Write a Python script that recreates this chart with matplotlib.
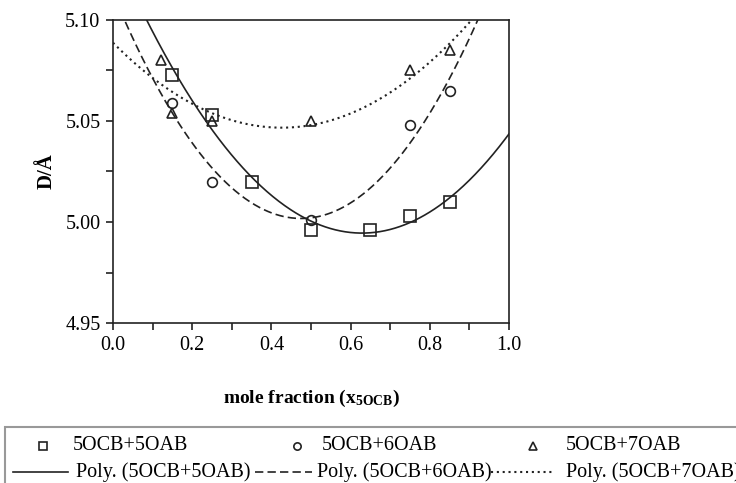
import numpy as np
import matplotlib
matplotlib.use("Agg")
import matplotlib.pyplot as plt
from matplotlib.lines import Line2D
from matplotlib.patches import Rectangle

plt.rcParams['font.family'] = ['Liberation Serif', 'DejaVu Serif']
plt.rcParams['mathtext.fontset'] = 'custom'
plt.rcParams['mathtext.rm'] = 'Liberation Serif'
plt.rcParams['mathtext.bf'] = 'Liberation Serif:bold'
plt.rcParams['mathtext.default'] = 'bf'

# data
x_5 = [0.15, 0.25, 0.35, 0.50, 0.65, 0.75, 0.85]
d_5 = [5.073, 5.053, 5.020, 4.996, 4.996, 5.003, 5.010]

x_6 = [0.15, 0.25, 0.50, 0.75, 0.85]
d_6 = [5.059, 5.020, 5.001, 5.048, 5.065]

x_7 = [0.12, 0.15, 0.25, 0.50, 0.75, 0.85]
d_7 = [5.080, 5.054, 5.050, 5.050, 5.075, 5.085]

labels = ["5OCB+5OAB", "5OCB+6OAB", "5OCB+7OAB"]
xticks = [0.0, 0.2, 0.4, 0.6, 0.8, 1.0]
yticks = [4.95, 5.00, 5.05, 5.10]

W, H = 736, 483
fig = plt.figure(figsize=(W / 100, H / 100), dpi=100)

def fx(px):
    return px / W

def fy(py):
    return 1 - py / H

ax = fig.add_axes([fx(113), fy(323), 396 / W, 303 / H])

col = "#222222"
styles = ["-", (0, (5, 2.5)), (0, (1, 1.8))]
widths = [1.2, 1.2, 1.5]
markers = [("s", 8.5), ("o", 7), ("^", 7)]
xs = [x_5, x_6, x_7]
ds = [d_5, d_6, d_7]

xx = np.linspace(0, 1, 400)
for xv, dv, ls, lw, (m, ms) in zip(xs, ds, styles, widths, markers):
    c = np.polyfit(xv, dv, 2)
    ax.plot(xx, np.polyval(c, xx), ls=ls, color=col, lw=lw)
    ax.plot(xv, dv, ls="none", marker=m, ms=ms, mfc="none", mec=col, mew=1.2)

ax.set_xlim(0, 1)
ax.set_ylim(4.95, 5.10)
ax.set_xticks(xticks)
ax.set_xticklabels([f"{v:.1f}" for v in xticks])
ax.set_xticks(np.arange(0.1, 1.0, 0.2), minor=True)
ax.set_yticks(yticks)
ax.set_yticklabels([f"{v:.2f}" for v in yticks])
ax.set_yticks([4.975, 5.025, 5.075], minor=True)
ax.tick_params(which="both", direction="out", length=5, width=1.2, color=col,
               labelsize=14.5, pad=4)
for s in ax.spines.values():
    s.set_linewidth(1.2)
    s.set_color(col)

ax.set_ylabel("D/Å", fontsize=15, fontweight="bold", labelpad=6)
ax.set_xlabel("mole fraction (x$_{5OCB}$)", fontsize=14, fontweight="bold", labelpad=24)

# legend box, drawn by hand like the Excel one
fig.add_artist(Rectangle((fx(5), fy(490)), fx(740) - fx(5), fy(427) - fy(490),
                         transform=fig.transFigure, fill=False,
                         ec="#999999", lw=1.5))
mark_x = [43, 297, 533]
text_x = [73, 322, 566]
line_x = [(13, 68), (255, 312), (491, 553)]
poly_x = [76, 317, 566]
for i in range(3):
    m, ms = markers[i]
    fig.add_artist(Line2D([fx(mark_x[i])], [fy(446)], marker=m, ms=ms * 0.75,
                          mfc="none", mec=col, mew=1.2, transform=fig.transFigure))
    fig.text(fx(text_x[i]), fy(446), labels[i], fontsize=14.5, va="center")
    fig.add_artist(Line2D([fx(line_x[i][0]), fx(line_x[i][1])], [fy(472), fy(472)],
                          ls=styles[i], color=col, lw=widths[i], transform=fig.transFigure))
    fig.text(fx(poly_x[i]), fy(472), f"Poly. ({labels[i]})", fontsize=14.5, va="center")

fig.savefig("out.png", dpi=100)
